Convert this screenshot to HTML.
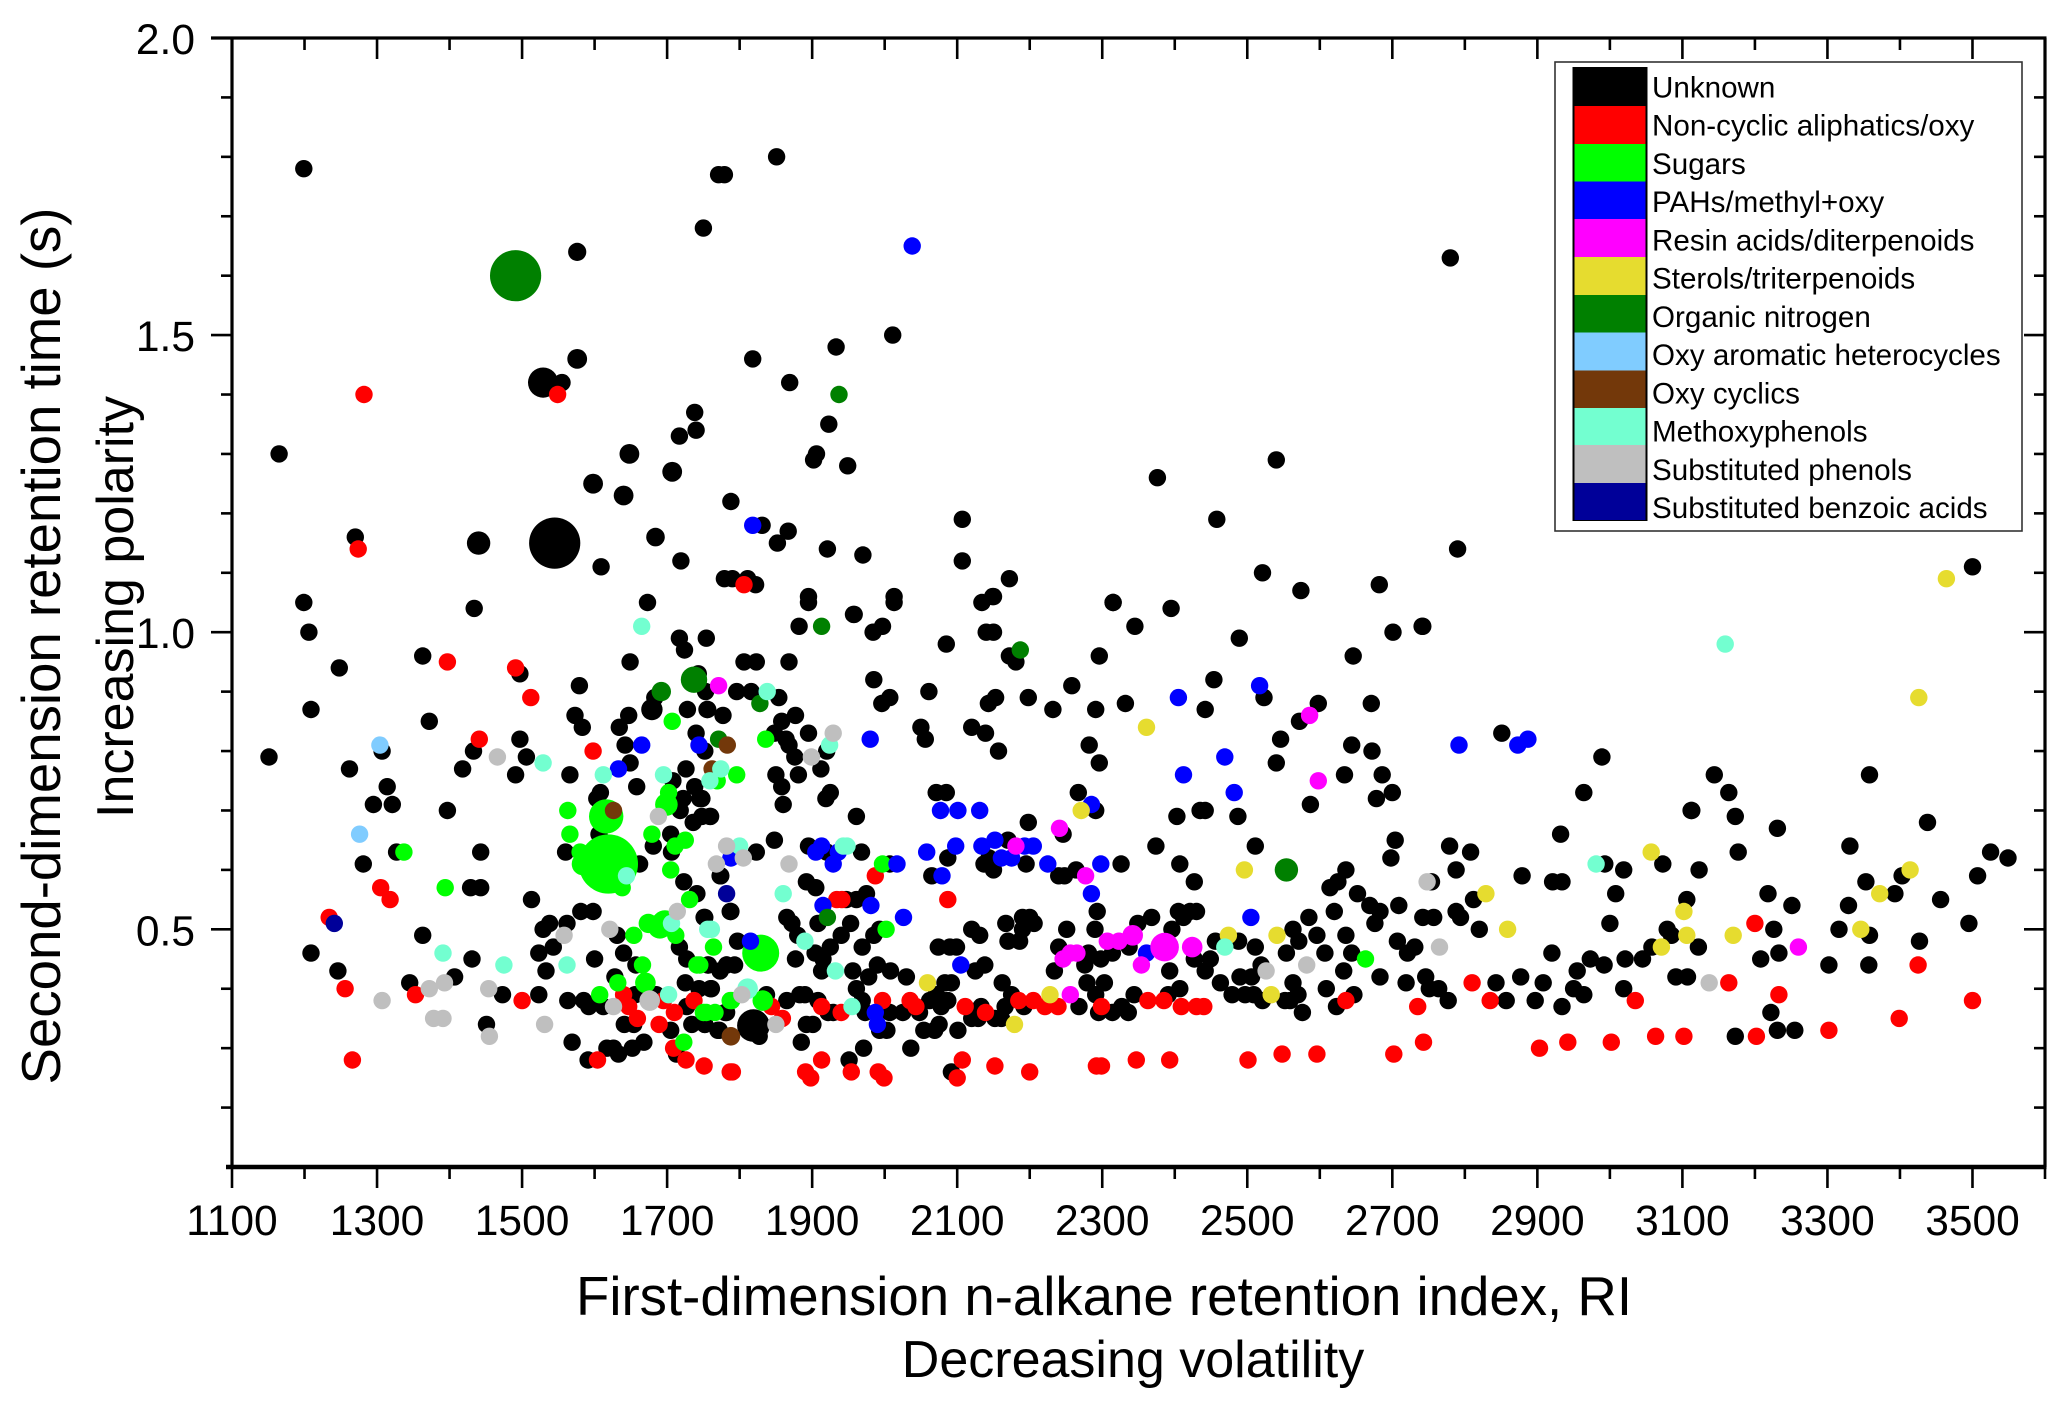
<!DOCTYPE html>
<html>
<head>
<meta charset="utf-8">
<title>GCxGC compound classes</title>
<style>
html,body{margin:0;padding:0;background:#fff;}
svg{display:block;font-family:"Liberation Sans",Arial,sans-serif;}
</style>
</head>
<body>
<svg id="chart" xmlns="http://www.w3.org/2000/svg" width="2067" height="1409" viewBox="0 0 2067 1409">
<rect x="0" y="0" width="2067" height="1409" fill="#fff"/>
<g id="points"></g>
<g id="axes"></g>
<text x="1104" y="1315" font-size="54.6" text-anchor="middle">First-dimension n-alkane retention index, RI</text>
<text x="1133" y="1377" font-size="52" text-anchor="middle">Decreasing volatility</text>
<text transform="translate(60,646) rotate(-90)" font-size="54.6" text-anchor="middle">Second-dimension retention time (s)</text>
<text transform="translate(133,607) rotate(-90)" font-size="52" text-anchor="middle">Increasing polarity</text>
<g>
<rect x="1555" y="62" width="467" height="469" fill="#fff" stroke="#333" stroke-width="1.6"/>
<rect x="1572.5" y="67" width="75" height="454" fill="#000"/>
<rect x="1575" y="68" width="70" height="38" fill="#000000"/>
<rect x="1574.5" y="106" width="71" height="38" fill="#ff0000"/>
<rect x="1574.5" y="144" width="71" height="37.5" fill="#00ff00"/>
<rect x="1574.5" y="181.5" width="71" height="37.5" fill="#0000ff"/>
<rect x="1574.5" y="219" width="71" height="38" fill="#ff00ff"/>
<rect x="1574.5" y="257" width="71" height="38" fill="#e6dc2f"/>
<rect x="1574.5" y="295" width="71" height="37.5" fill="#008000"/>
<rect x="1574.5" y="332.5" width="71" height="38" fill="#80ccff"/>
<rect x="1574.5" y="370.5" width="71" height="37.5" fill="#73380a"/>
<rect x="1574.5" y="408" width="71" height="37" fill="#73ffd0"/>
<rect x="1574.5" y="445" width="71" height="38" fill="#bfbfbf"/>
<rect x="1574.5" y="483" width="71" height="37" fill="#000099"/>
<g font-size="29.6" fill="#000">
<text x="1652" y="97.5">Unknown</text>
<text x="1652" y="135.7">Non-cyclic aliphatics/oxy</text>
<text x="1652" y="174">Sugars</text>
<text x="1652" y="212.2">PAHs/methyl+oxy</text>
<text x="1652" y="250.5">Resin acids/diterpenoids</text>
<text x="1652" y="288.7">Sterols/triterpenoids</text>
<text x="1652" y="327">Organic nitrogen</text>
<text x="1652" y="365.2">Oxy aromatic heterocycles</text>
<text x="1652" y="403.5">Oxy cyclics</text>
<text x="1652" y="441.7">Methoxyphenols</text>
<text x="1652" y="480">Substituted phenols</text>
<text x="1652" y="518.2">Substituted benzoic acids</text>
</g>
</g>
</svg>
<script>
// Values: [retention index, retention time, optional relative abundance]
const unknown = [
[1199,1.78],[1851,1.80],[1771,1.77],[1779,1.77],[1750,1.68],[1576,1.64,1.1],[2780,1.63],[2011,1.50],[1933,1.48],[1576,1.46,1.3],[1818,1.46],[1869,1.42],[1529,1.42,3],[1555,1.42],[1738,1.37],[1740,1.34],[1717,1.33],[1923,1.35],[1906,1.30],[1902,1.29],[1949,1.28],[1648,1.30,1.3],[1707,1.27,1.3],[1598,1.25,1.3],[1640,1.23,1.3],[1788,1.22],[1831,1.18],[1867,1.17],[1852,1.15],[1921,1.14],[1970,1.13],[2107,1.19],[2107,1.12],[1545,1.15,8.65],[1684,1.16,1.15],[1609,1.11],[1719,1.12],[1779,1.09],[1790,1.09],[1811,1.09],[1822,1.08],[1673,1.05],[1895,1.06],[2013,1.06],[2149,1.06],[2134,1.05],[1958,1.03],[1165,1.30],[1270,1.16],[1440,1.15,1.8],[3500,1.11],
[2540,1.29],[2376,1.26],[2458,1.19],[2790,1.14],[2521,1.10],[2574,1.07],[2682,1.08],[2172,1.09],[2315,1.05],[2395,1.04],[2345,1.01],[2741,1.01],
[1199,1.05],[1434,1.04],[1206,1.00],[1717,.99],[1754,.99],[1724,.97],[1363,.96],[1248,.94],[1649,.95],[1497,.93],[1743,.93],[1579,.91],[1753,.90],[1683,.89],[1679,.87,1.5],[1209,.87],[1573,.86],[1583,.84],[1647,.86],[1634,.84],[1728,.87],[1755,.87],[1777,.86],[1372,.85],[1740,.83],[1497,.82],[1642,.81],[1433,.80],[1752,.80],[1307,.80],[1151,.79],[1506,.79],[1649,.78],[1262,.77],[1418,.77],[1726,.77],[1491,.76],[1566,.76],[1708,.75],[1314,.74],[1658,.74],[1608,.73],[1738,.74],[1603,.72],[1722,.72],[1745,.72],[1295,.71],[1321,.71],[1718,.70],[1397,.70],[1736,.68],[1748,.69],[1760,.69],[1705,.66],[1606,.66],[1681,.64],[1327,.63],[1443,.63],[1706,.63],[1560,.63],[1662,.61],[1281,.61],[1774,.59],[1723,.58],[1429,.57],[1443,.57],[1741,.56],[1513,.55],[1787,.53],[1581,.53],[1598,.53],[1751,.52],[1538,.51],[1529,.50],[1562,.51],[1631,.49],[1363,.49],[1717,.47],[1543,.47],[1523,.46],[1640,.46],[1209,.46],[1727,.45],[1431,.45],[1600,.45],[1657,.44],[1757,.44],[1773,.43],[1782,.44],[1533,.43],[1246,.43],[1628,.42],[1407,.42],[1725,.41],[1345,.41],[1744,.40],[1760,.40],[1473,.39],[1523,.39],[1656,.39],[1685,.39],[1563,.38],[1585,.38],[1592,.37],[1612,.37],[1727,.37],[1782,.36],[1451,.34],[1641,.34],[1654,.34],[1734,.34],[1752,.34],[1772,.33],[1705,.33],[1569,.31],[1617,.30],[1626,.30],[1633,.29],[1652,.30],[1668,.31],[1591,.28],[1713,.29],
[1895,1.05],[2013,1.05],[2150,1.06],[2315,1.05],[1957,1.03],[1882,1.01],[1997,1.01],[1984,1.00],[2140,1.00],[2150,1.00],[1806,.95],[1823,.95],[1868,.95],[2296,.96],[2085,.98],[2172,.96],[2181,.95],[1985,.92],[2061,.90],[1796,.90],[1816,.90],[1854,.89],[2007,.89],[1996,.88],[2153,.89],[2143,.88],[2198,.89],[2232,.87],[2291,.87],[2332,.88],[2258,.91],[1877,.86],[1858,.85],[1756,.87],[2050,.84],[2056,.82],[2120,.84],[2139,.83],[2157,.80],[1848,.83],[1895,.83],[1864,.82],[1868,.81],[1876,.79],[1920,.80],[2282,.81],[2296,.78],[1912,.77],[1850,.76],[1881,.76],[1858,.74],[1925,.73],[1919,.72],[1860,.71],[2071,.73],[2085,.73],[2267,.73],[2291,.70],[1748,.72],[2403,.69],[1961,.69],[2435,.70],[2198,.68],[2246,.66],[1759,.69],[1848,.65],[1895,.64],[1823,.63],[1968,.63],[1920,.63],[2170,.65],[2374,.64],[2326,.61],[2407,.61],[2087,.62],[2137,.61],[2150,.60],[2144,.62],[2195,.61],[2264,.60],[2240,.59],[2248,.59],[2065,.59],[1773,.59],[2007,.61],[2427,.58],[1892,.58],[1905,.57],[1975,.56],[1961,.55],[1947,.55],[1788,.53],[1752,.52],[2293,.53],[1865,.52],[1872,.51],[1880,.49],[1908,.51],[1953,.51],[1940,.49],[1925,.47],[1904,.46],[1915,.45],[1877,.45],[1913,.43],[1985,.49],[1993,.50],[1969,.47],[1797,.48],[2167,.51],[2190,.52],[2200,.52],[2206,.51],[2190,.50],[2186,.48],[2170,.48],[2120,.50],[2131,.49],[2251,.50],[2290,.50],[2349,.51],[2368,.52],[2405,.53],[2421,.53],[2412,.52],[2396,.50],[2430,.53],[2074,.47],[2090,.47],[2099,.47],[2240,.47],[2281,.46],[2337,.47],[2314,.46],[2298,.45],[2276,.44],[2234,.43],[2393,.43],[2427,.45],[2138,.44],[2125,.43],[1756,.44],[1773,.43],[1793,.44],[1782,.44],[1761,.40],[1956,.43],[1990,.44],[2008,.43],[1978,.42],[2030,.42],[2162,.41],[2083,.41],[2092,.41],[2279,.41],[2303,.41],[2291,.39],[2407,.40],[2391,.39],[2344,.39],[1961,.40],[1969,.38],[1837,.39],[1865,.38],[1883,.39],[1890,.39],[1908,.38],[1922,.36],[1929,.36],[1973,.36],[2007,.36],[2025,.36],[2048,.36],[2062,.38],[2081,.38],[2071,.39],[2087,.38],[2078,.37],[2133,.37],[2120,.35],[2129,.35],[2152,.35],[2161,.35],[2166,.37],[2175,.39],[2192,.37],[2268,.37],[2295,.36],[2314,.36],[2327,.37],[2336,.36],[1780,.36],[1770,.33],[1752,.34],[1819,.338,3.5],[1827,.32],[1892,.34],[1901,.34],[1885,.31],[1951,.28],[1971,.30],[2036,.30],[1993,.33],[2003,.33],[2054,.33],[2069,.33],[2075,.34],[2101,.33],[2092,.26],
[2489,.99],[2701,1.00],[2742,1.01],[2646,.96],[2454,.92],[2523,.89],[2442,.87],[2598,.88],[2671,.88],[2572,.85],[2546,.82],[2851,.83],[2644,.81],[2672,.80],[2540,.78],[2634,.76],[2686,.76],[2700,.73],[2678,.72],[2587,.71],[2989,.79],[2964,.73],[3113,.70],[2442,.70],[2487,.69],[2511,.64],[2704,.65],[2698,.62],[2932,.66],[2779,.64],[2808,.63],[2788,.60],[2636,.60],[2625,.58],[2614,.57],[2652,.56],[2879,.59],[2921,.58],[2934,.58],[2754,.58],[2993,.61],[3019,.60],[3073,.61],[3123,.60],[3008,.56],[3106,.55],[2812,.55],[2669,.54],[2683,.53],[2709,.54],[2788,.53],[2794,.52],[2742,.52],[2757,.52],[2676,.51],[2620,.53],[2585,.52],[3000,.51],[2820,.50],[2563,.50],[2571,.48],[2596,.49],[2636,.49],[2456,.48],[2488,.48],[2707,.48],[2731,.47],[2721,.46],[3079,.50],[3085,.49],[3058,.47],[3122,.47],[2511,.47],[2554,.46],[2607,.46],[2644,.46],[2920,.46],[2973,.45],[2992,.44],[3021,.45],[3045,.45],[2955,.43],[2519,.44],[2633,.43],[2449,.45],[2442,.43],[2490,.42],[2506,.42],[2463,.41],[2683,.42],[2746,.42],[2719,.41],[2843,.41],[2877,.42],[2908,.41],[3091,.42],[3107,.42],[2563,.41],[2751,.40],[2764,.40],[2609,.40],[2950,.40],[2964,.39],[3019,.40],[2479,.39],[2497,.39],[2509,.39],[2570,.39],[2647,.39],[2521,.38],[2552,.38],[2559,.38],[2777,.38],[2857,.38],[2897,.38],[2623,.37],[2934,.37],[2576,.36],
[3144,.76],[3164,.73],[3358,.76],[3112,.70],[3173,.69],[3231,.67],[3438,.68],[3331,.64],[3177,.63],[3525,.63],[3549,.62],[3507,.59],[3353,.58],[3403,.59],[3393,.56],[3218,.56],[3456,.55],[3329,.54],[3251,.54],[3316,.50],[3226,.50],[3495,.51],[3358,.49],[3427,.48],[3233,.46],[3208,.45],[3302,.44],[3357,.44],[3222,.36],[3231,.33],[3255,.33],[3173,.32]
];
const nonCyclic = [
[1549,1.40],[1282,1.40],[1274,1.14],[1806,1.08],[1397,.95],[1491,.94],[1512,.89],[1441,.82],[1598,.80],[1305,.57],[1318,.55],[1234,.52],[1256,.40],[1353,.39],[1500,.38],[1640,.39],[1647,.37],[1659,.35],[1689,.34],[1695,.38],[1710,.36],[1737,.38],[1709,.30],[1726,.28],[1751,.27],[1604,.28],[1266,.28],[1787,.26],
[1934,.55],[1941,.55],[1987,.59],[2087,.55],[1844,.37],[1859,.35],[1913,.37],[1940,.36],[1997,.38],[2035,.38],[2043,.37],[2111,.37],[2139,.36],[2185,.38],[2205,.38],[2221,.37],[2239,.37],[2299,.37],[2363,.38],[2385,.38],[2409,.37],[2430,.37],
[1790,.26],[1891,.26],[1898,.25],[1913,.28],[1954,.26],[1991,.26],[1999,.25],[2107,.28],[2100,.25],[2152,.27],[2200,.26],[2292,.27],[2299,.27],[2347,.28],[2393,.28],
[2440,.37],[2810,.41],[2835,.38],[2636,.38],[2735,.37],[3035,.38],[2501,.28],[2548,.29],[2596,.29],[2702,.29],[2743,.31],[2903,.30],[2942,.31],[3002,.31],[3063,.32],[3102,.32],
[3200,.51],[3164,.41],[3233,.39],[3425,.44],[3500,.38],[3202,.32],[3302,.33],[3399,.35]
];
const sugars = [
[1707,.85],[1563,.70],[1616,.69,3.9],[1566,.66],[1702,.73],[1699,.71,1.7],[1679,.66],[1725,.65],[1711,.64],[1337,.63],[1394,.57],[1580,.63,1],[1619,.61,11.6],[1584,.61,1.7],[1638,.57],[1705,.60],[1731,.55],[1674,.51,1.25],[1690,.505,2],[1697,.51,2.3],[1712,.49],[1654,.49],[1764,.47],[1666,.44],[1741,.44],[1670,.41,1.4],[1632,.41],[1607,.39],[1787,.38],[1750,.36],[1766,.36],[1723,.31],[1769,.75],[1796,.76],[1836,.82],[1997,.61],[2002,.50],[1829,.46,4.5],[1789,.38],[1832,.38,1.4],[1754,.36],[1745,.44],[2663,.45]
];
const pahs = [
[2038,1.65],[1818,1.18],[1665,.81],[1744,.81],[1633,.77],[1788,.62],[1980,.82],[2077,.70],[2101,.70],[2131,.70],[2285,.71],[1913,.64],[1905,.63],[1929,.61],[1936,.63],[2058,.63],[2098,.64],[2134,.64],[2152,.65],[2161,.62],[2175,.62],[2193,.64],[2205,.64],[2017,.61],[2225,.61],[2298,.61],[2079,.59],[2285,.56],[1915,.54],[1981,.54],[2026,.52],[1815,.48],[2105,.44],[1987,.36],[1990,.34],[2361,.46],[2405,.89],[2412,.76],[2517,.91],[2469,.79],[2482,.73],[2505,.52],[2792,.81],[2873,.81],[2887,.82]
];
const resinAcids = [
[1771,.91],[2181,.64],[2241,.67],[2277,.59],[2246,.45],[2256,.46],[2265,.46],[2307,.48],[2323,.48],[2342,.49,1.4],[2386,.47,2.7],[2424,.47,1.4],[2354,.44],[2256,.39],[2586,.86],[2598,.75],[3260,.47]
];
const sterols = [
[2361,.84],[2271,.70],[2059,.41],[2228,.39],[2179,.34],[2496,.60],[2474,.49],[2541,.49],[2533,.39],[2829,.56],[2859,.50],[3057,.63],[3102,.53],[3106,.49],[3071,.47],[3170,.49],[3346,.50],[3372,.56],[3414,.60],[3464,1.09],[3426,.89]
];
const organicNitrogen = [
[1491,1.60,8.65],[1937,1.40],[1737,.92,2.3],[1692,.90,1.25],[1771,.82],[1913,1.01],[1828,.88],[2187,.97],[1921,.52],[2554,.60,1.8]
];
const oxyAromatic = [[1304,.81],[1276,.66]];
const oxyCyclics = [[1626,.70],[1783,.81],[1762,.77],[1788,.32,1.15]];
const methoxyphenols = [
[1665,1.01],[1529,.78],[1612,.76],[1695,.76],[1774,.77],[1759,.75],[1644,.59],[1391,.46],[1475,.44],[1562,.44],[1702,.39],[1706,.51],[1756,.50],[1761,.50],[1838,.90],[1924,.81],[1800,.64],[1943,.64],[1948,.64],[1860,.56],[1890,.48],[1932,.43],[1811,.40,1.4],[1955,.37],[2469,.47],[2981,.61],[3159,.98]
];
const substitutedPhenols = [
[1466,.79],[1688,.69],[1782,.64],[1768,.61],[1714,.53],[1621,.50],[1558,.49],[1454,.40],[1393,.41],[1372,.40],[1676,.38,1.4],[1626,.37],[1307,.38],[1378,.35],[1391,.35],[1531,.34],[1455,.32],[1929,.83],[1899,.79],[1805,.62],[1868,.61],[1803,.39],[1850,.34],[2748,.58],[2765,.47],[2526,.43],[2582,.44],[3137,.41]
];
const benzoicAcids = [[1241,.51],[1782,.56]];

const seriesKeys = ['unknown','non-cyclic','sugars','pahs','resin-acids','sterols','organic-nitrogen','oxy-aromatic','oxy-cyclics','methoxyphenols','substituted-phenols','benzoic-acids'];
const seriesColors = ['#000000','#ff0000','#00ff00','#0000ff','#ff00ff','#e6dc2f','#008000','#80ccff','#73380a','#73ffd0','#bfbfbf','#000099'];
const seriesValues = [unknown,nonCyclic,sugars,pahs,resinAcids,sterols,organicNitrogen,oxyAromatic,oxyCyclics,methoxyphenols,substitutedPhenols,benzoicAcids];

const xTickLabels = ['1100','1300','1500','1700','1900','2100','2300','2500','2700','2900','3100','3300','3500'];
const yTickLabels = ['0.5','1.0','1.5','2.0'];

const NS = 'http://www.w3.org/2000/svg';
const plot = {left:232, right:2045, top:38, bottom:1167, xMin:1100, xMax:3600, yMin:0.1, yMax:2.0};
function xScale(v){return plot.left + (v-plot.xMin)*(plot.right-plot.left)/(plot.xMax-plot.xMin);}
function yScale(v){return plot.bottom - (v-plot.yMin)*(plot.bottom-plot.top)/(plot.yMax-plot.yMin);}
function rScale(a){return 8.7*Math.sqrt(a);}

const pointsGroup = document.getElementById('points');
seriesValues.forEach(function(series, s){
  const g = document.createElementNS(NS,'g');
  
  
  g.setAttribute('fill', seriesColors[s]);
  series.forEach(function(d){
    const c = document.createElementNS(NS,'circle');
    c.setAttribute('cx', xScale(d[0]).toFixed(1));
    c.setAttribute('cy', yScale(d[1]).toFixed(1));
    c.setAttribute('r', rScale(d[2]||1).toFixed(1));
    
    
    g.appendChild(c);
  });
  pointsGroup.appendChild(g);
});

const axes = document.getElementById('axes');
function line(x1,y1,x2,y2,w,name){
  const l = document.createElementNS(NS,'line');
  l.setAttribute('x1',x1);l.setAttribute('y1',y1);l.setAttribute('x2',x2);l.setAttribute('y2',y2);
  l.setAttribute('stroke','#000');l.setAttribute('stroke-width',w);
  
  
  axes.appendChild(l);
}
function label(x,y,txt,anchor,name){
  const t = document.createElementNS(NS,'text');
  t.setAttribute('x',x);t.setAttribute('y',y);t.setAttribute('font-size','42.5');t.setAttribute('text-anchor',anchor);
  t.textContent = txt;
  
  
  axes.appendChild(t);
}
line(plot.left,plot.top,plot.left,plot.bottom,3.2,'y-axis-line-left');
line(plot.right,plot.top,plot.right,plot.bottom,3.2,'y-axis-line-right');
line(plot.left-21,plot.top,plot.right+1.5,plot.top,3.2,'x-axis-line-top');
line(plot.left-6,plot.bottom,plot.right+1.5,plot.bottom,4.4,'x-axis-line-bottom');
const xMajorStep = 200, xMinorStep = 100;
for(let v=plot.xMin; v<=plot.xMax; v+=xMinorStep){
  const major = (v-plot.xMin)%xMajorStep===0;
  const len = major?21:12;
  const x = xScale(v);
  line(x,plot.bottom,x,plot.bottom+len,2.6,'x-tick');
  line(x,plot.top,x,plot.top+len,2.6,'x-tick-top');
}
xTickLabels.forEach(function(t){
  label(xScale(+t),1235,t,'middle','x-tick-label');
});
for(let i=1; i<=18; i++){
  const v = plot.yMin + i*0.1;
  const major = i%5===4;
  const len = major?21:11;
  const y = yScale(v);
  line(plot.left-len,y,plot.left,y,2.6,'y-tick');
  line(plot.right-len,y,plot.right,y,2.6,'y-tick-right');
}
yTickLabels.forEach(function(t){
  label(195,yScale(+t)+16,t,'end','y-tick-label');
});
</script>
</body>
</html>
